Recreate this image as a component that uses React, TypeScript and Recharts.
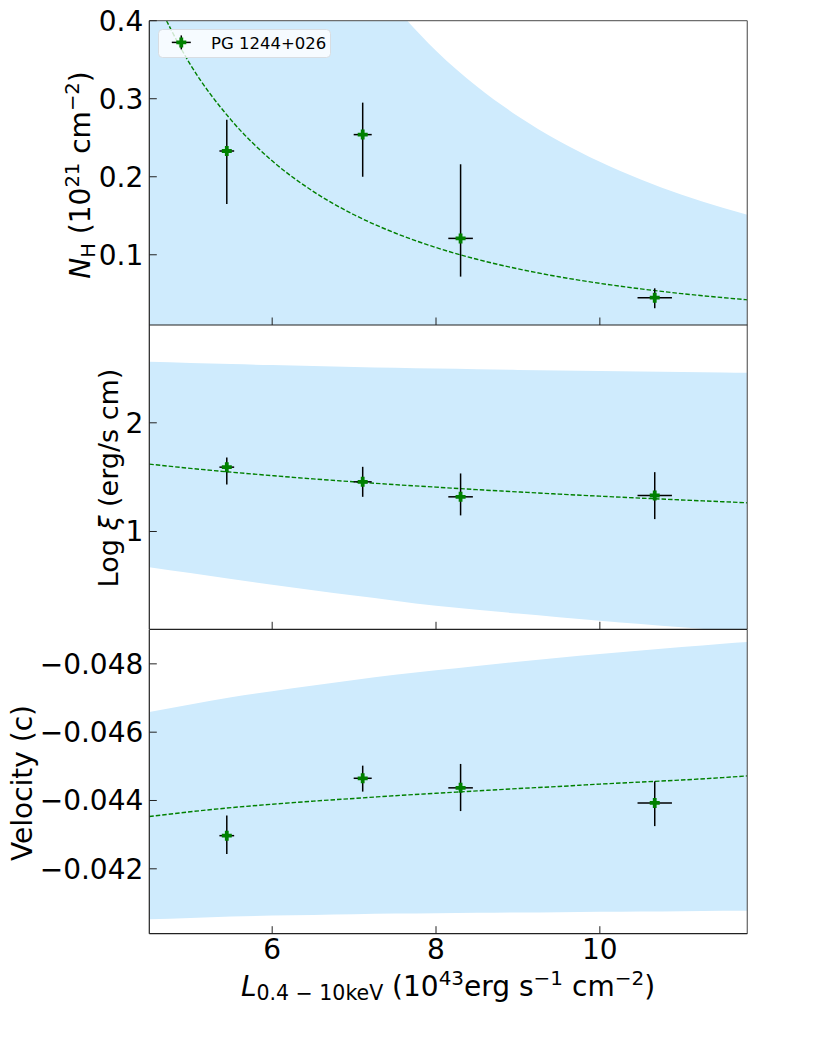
import React from 'react';
import { ComposedChart, XAxis, YAxis, Area, Line, Scatter, ErrorBar, Legend, ReferenceLine } from 'recharts';

const FONT = '"DejaVu Sans", sans-serif';

// ---- observed points (PG 1244+026) ----
const LEGEND_LABEL = 'PG 1244+026';
const OBS_L = [5.446, 7.105, 8.3, 10.67];
const OBS_L_ERR = [0.09, 0.11, 0.15, 0.21];
const NH = [0.233, 0.254, 0.121, 0.045];
const NH_ERR_LO = [0.068, 0.054, 0.049, 0.0135];
const NH_ERR_HI = [0.04, 0.041, 0.095, 0.012];
const LOGXI = [1.592, 1.457, 1.319, 1.331];
const LOGXI_ERR_LO = [0.16, 0.138, 0.171, 0.217];
const LOGXI_ERR_HI = [0.089, 0.138, 0.215, 0.215];
const VEL = [-0.04297, -0.04465, -0.04437, -0.04393];
const VEL_ERR_LO = [0.00059, 0.00037, 0.0007, 0.00063];
const VEL_ERR_HI = [0.00054, 0.00039, 0.00068, 0.00068];

// ---- model curve and confidence band, read on a grid of luminosities ----
const GRID_L = [4.5, 5.0, 5.5, 6.0, 6.5, 7.0, 7.5, 8.0, 8.5, 9.0, 9.5, 10.0, 10.5, 11.0, 11.5, 11.8];
const NH_FIT = [0.445, 0.344, 0.2726, 0.2204, 0.1813, 0.1513, 0.1279, 0.1093, 0.0942, 0.082, 0.0718, 0.0634, 0.0563, 0.0502, 0.0451, 0.0423];
const NH_BAND_HI = [1.314, 1.038, 0.838, 0.689, 0.576, 0.488, 0.418, 0.3616, 0.3156, 0.2776, 0.2459, 0.2192, 0.1965, 0.177, 0.1602, 0.1512];
const NH_BAND_LO = [0, 0, 0, 0, 0, 0, 0, 0, 0, 0, 0, 0, 0, 0, 0, 0];
const XI_FIT = [1.62, 1.581, 1.546, 1.514, 1.484, 1.457, 1.431, 1.408, 1.385, 1.364, 1.344, 1.325, 1.307, 1.29, 1.274, 1.264];
const XI_BAND_HI = [2.561, 2.55, 2.54, 2.531, 2.522, 2.514, 2.506, 2.499, 2.493, 2.487, 2.481, 2.476, 2.471, 2.467, 2.463, 2.46];
const XI_BAND_LO = [0.672, 0.617, 0.563, 0.509, 0.46, 0.411, 0.363, 0.316, 0.28, 0.245, 0.211, 0.179, 0.148, 0.118, 0.088, 0.07];
const VEL_FIT = [-0.04353, -0.04367, -0.04379, -0.04389, -0.04398, -0.04406, -0.04414, -0.04421, -0.04428, -0.04435, -0.04441, -0.04448, -0.04454, -0.0446, -0.04467, -0.04472];
const VEL_BAND_HI = [-0.04659, -0.04681, -0.04702, -0.0472, -0.04737, -0.04753, -0.04768, -0.04781, -0.04794, -0.04806, -0.04818, -0.04829, -0.04839, -0.04849, -0.04859, -0.04864];
const VEL_BAND_LO = [-0.04052, -0.04056, -0.0406, -0.04063, -0.04065, -0.04067, -0.04069, -0.0407, -0.04071, -0.04072, -0.04073, -0.04074, -0.04075, -0.04076, -0.04077, -0.04077];

// ---- axes ----
const X_DOMAIN = [4.5, 11.8];
const X_TICKS = [6, 8, 10];
const NH_DOMAIN = [0.01, 0.4];
const NH_TICKS = [0.1, 0.2, 0.3, 0.4];
const XI_DOMAIN = [0.1, 2.9];
const XI_TICKS = [1, 2];
const VEL_DOMAIN = [-0.049, -0.0401];
const VEL_TICKS = [-0.048, -0.046, -0.044, -0.042];

// ---- layout (page pixels) ----
const W = 830;
const H = 1038;
const PL = 149.3;
const PR = 747.3;
const PANELS = [
  { top: 20.7, bottom: 325 },
  { top: 325, bottom: 629.3 },
  { top: 629.7, bottom: 933.7 },
];
const YAXIS_W = 100;
const TICK_LEN = 7.5;
const BAND = '#cfebfd';
const GREEN = '#008000';
const SPINE = '#222';
const SPINE_LIGHT = '#6e6e6e';

const fmt = (v: number) => String(v).replace('-', '\u2212');

const makeFit = (fit: number[], lo: number[], hi: number[]) =>
  GRID_L.map((x, i) => ({ x, v: fit[i], lo: lo[i], hi: hi[i] }));
const makeObs = (y: number[], elo: number[], ehi: number[]) =>
  OBS_L.map((x, i) => ({ x, y: y[i], xerr: [OBS_L_ERR[i], OBS_L_ERR[i]], yerr: [elo[i], ehi[i]] }));

const FIT_NH = makeFit(NH_FIT, NH_BAND_LO, NH_BAND_HI);
const FIT_XI = makeFit(XI_FIT, XI_BAND_LO, XI_BAND_HI);
const FIT_VEL = makeFit(VEL_FIT, VEL_BAND_LO, VEL_BAND_HI);
const OBS_NH = makeObs(NH, NH_ERR_LO, NH_ERR_HI);
const OBS_XI = makeObs(LOGXI, LOGXI_ERR_LO, LOGXI_ERR_HI);
const OBS_VEL = makeObs(VEL, VEL_ERR_LO, VEL_ERR_HI);

const plusPath = (cx: number, cy: number, a = 5, t = 1.9) =>
  `M${cx - t},${cy - a}H${cx + t}V${cy - t}H${cx + a}V${cy + t}H${cx + t}V${cy + a}H${cx - t}V${cy + t}H${cx - a}V${cy - t}H${cx - t}Z`;

const PlusMarker = (props: any) => {
  const { cx, cy } = props;
  if (cx == null || cy == null) return <g />;
  return <path d={plusPath(cx, cy)} fill={GREEN} />;
};

const makeYTick = () => (props: any) => {
  const { y, payload } = props;
  return (
    <g>
      <line x1={PL} x2={PL + TICK_LEN} y1={y} y2={y} stroke={SPINE} strokeWidth={1} />
      <text x={PL - 6} y={y + 10} textAnchor="end" fontSize={28} fontFamily={FONT} fill="#000">
        {fmt(payload.value)}
      </text>
    </g>
  );
};

const makeXTick = (panel: number, withLabel: boolean) => (props: any) => {
  const { x } = props;
  const yb = PANELS[panel].bottom;
  return (
    <g>
      <line x1={x} x2={x} y1={yb} y2={yb - TICK_LEN} stroke={SPINE} strokeWidth={1} />
      {withLabel ? (
        <text x={x} y={yb + 25.6} textAnchor="middle" fontSize={28} fontFamily={FONT} fill="#000">
          {fmt(props.payload.value)}
        </text>
      ) : null}
    </g>
  );
};

const NHLabel = () => (
  <text transform="rotate(-90 90 175)" x={90} y={175} textAnchor="middle" fontSize={28} fontFamily={FONT} fill="#000">
    <tspan fontStyle="italic">N</tspan>
    <tspan fontSize={19.6} dy={5}>H</tspan>
    <tspan dy={-5}> (10</tspan>
    <tspan fontSize={19.6} dy={-11}>21</tspan>
    <tspan dy={11}> cm</tspan>
    <tspan fontSize={19.6} dy={-11}>{'\u22122'}</tspan>
    <tspan dy={11}>)</tspan>
  </text>
);

const XiLabel = () => (
  <text transform="rotate(-90 118 478)" x={118} y={478} textAnchor="middle" fontSize={27} fontFamily={FONT} fill="#000">
    <tspan>Log </tspan>
    <tspan fontStyle="italic">ξ</tspan>
    <tspan> (erg/s cm)</tspan>
  </text>
);

const VelLabel = () => (
  <text transform="rotate(-90 31.7 783)" x={31.7} y={783} textAnchor="middle" fontSize={28} fontFamily={FONT} fill="#000">
    Velocity (c)
  </text>
);

const XLabel = () => (
  <text x={448} y={996} textAnchor="middle" fontSize={28} fontFamily={FONT} fill="#000">
    <tspan fontStyle="italic">L</tspan>
    <tspan fontSize={20.5} dy={4}>{'0.4 \u2212 10keV'}</tspan>
    <tspan dy={-4}> (10</tspan>
    <tspan fontSize={20} dy={-11}>43</tspan>
    <tspan dy={11}>erg s</tspan>
    <tspan fontSize={20} dy={-11}>{'\u22121'}</tspan>
    <tspan dy={11}> cm</tspan>
    <tspan fontSize={20} dy={-11}>{'\u22122'}</tspan>
    <tspan dy={11}>)</tspan>
  </text>
);

const LegendBox = () => (
  <svg width={174} height={30} style={{ display: 'block', overflow: 'visible' }}>
    <rect x={0.5} y={0.5} width={172} height={28} rx={4} ry={4} fill="rgba(255,255,255,0.8)" stroke="#d8dde2" strokeWidth={1} />
    <line x1={13.8} x2={32.8} y1={13.4} y2={13.4} stroke="#000" strokeWidth={1.5} />
    <line x1={23.3} x2={23.3} y1={6.4} y2={20.4} stroke="#000" strokeWidth={1.5} />
    <path d={plusPath(23.3, 13.4)} fill={GREEN} />
    <text x={53} y={19.7} fontSize={16.5} fontFamily={FONT} fill="#000">
      {LEGEND_LABEL}
    </text>
  </svg>
);

type PanelProps = {
  idx: number;
  fit: any[];
  obs: any[];
  yDomain: number[];
  yTicks: number[];
  reversed?: boolean;
  yLabel: React.ReactElement;
  last?: boolean;
  legend?: boolean;
};

const Panel = ({ idx, fit, obs, yDomain, yTicks, reversed, yLabel, last, legend }: PanelProps) => {
  const p = PANELS[idx];
  const xH = last ? 60 : 1;
  const margin = { top: p.top, right: W - PR, bottom: H - p.bottom - xH, left: PL - YAXIS_W };
  return (
    <div style={{ position: 'absolute', left: 0, top: 0, width: W, height: H }}>
      <ComposedChart width={W} height={H} margin={margin}>
        <Area
          data={fit}
          dataKey={(d: any) => [d.lo, d.hi]}
          type="monotone"
          stroke="none"
          fill={BAND}
          fillOpacity={1}
          isAnimationActive={false}
          activeDot={false}
        />
        <Line
          data={fit}
          dataKey="v"
          type="monotone"
          stroke={GREEN}
          strokeWidth={1.4}
          strokeDasharray="4.5 2"
          dot={false}
          activeDot={false}
          isAnimationActive={false}
        />
        <Scatter data={obs} dataKey="y" shape={PlusMarker} isAnimationActive={false} name={LEGEND_LABEL}>
          <ErrorBar dataKey="yerr" direction="y" width={0} stroke="#000" strokeWidth={1.5} />
          <ErrorBar dataKey="xerr" direction="x" width={0} stroke="#000" strokeWidth={1.5} />
        </Scatter>
        <ReferenceLine x={X_DOMAIN[1]} stroke={SPINE_LIGHT} strokeWidth={1.3} ifOverflow="visible" />
        {idx === 0 ? (
          <ReferenceLine y={yDomain[1]} stroke={SPINE_LIGHT} strokeWidth={1.3} ifOverflow="visible" />
        ) : null}
        <XAxis
          type="number"
          dataKey="x"
          domain={X_DOMAIN}
          allowDataOverflow
          ticks={X_TICKS}
          height={xH}
          tickLine={false}
          tickSize={0}
          tickMargin={0}
          interval={0}
          axisLine={{ stroke: SPINE, strokeWidth: 1.2 }}
          tick={makeXTick(idx, !!last)}
          label={last ? <XLabel /> : undefined}
        />
        <YAxis
          type="number"
          domain={yDomain}
          allowDataOverflow
          ticks={yTicks}
          reversed={!!reversed}
          width={YAXIS_W}
          tickLine={false}
          tickSize={0}
          tickMargin={0}
          interval={0}
          axisLine={{ stroke: SPINE, strokeWidth: 1.2 }}
          tick={makeYTick()}
          label={yLabel}
        />
        {legend ? (
          <Legend
            layout="horizontal"
            verticalAlign="middle"
            align="center"
            content={() => <LegendBox />}
            wrapperStyle={{ left: 157.7, top: 29.3, width: 174, height: 30 }}
          />
        ) : null}
      </ComposedChart>
    </div>
  );
};

export default function App() {
  return (
    <div style={{ position: 'absolute', left: 0, top: 0, width: W, height: H, background: '#fff' }}>
      <Panel idx={2} fit={FIT_VEL} obs={OBS_VEL} yDomain={VEL_DOMAIN} yTicks={VEL_TICKS} reversed yLabel={<VelLabel />} last />
      <Panel idx={1} fit={FIT_XI} obs={OBS_XI} yDomain={XI_DOMAIN} yTicks={XI_TICKS} yLabel={<XiLabel />} />
      <Panel idx={0} fit={FIT_NH} obs={OBS_NH} yDomain={NH_DOMAIN} yTicks={NH_TICKS} yLabel={<NHLabel />} legend />
    </div>
  );
}
